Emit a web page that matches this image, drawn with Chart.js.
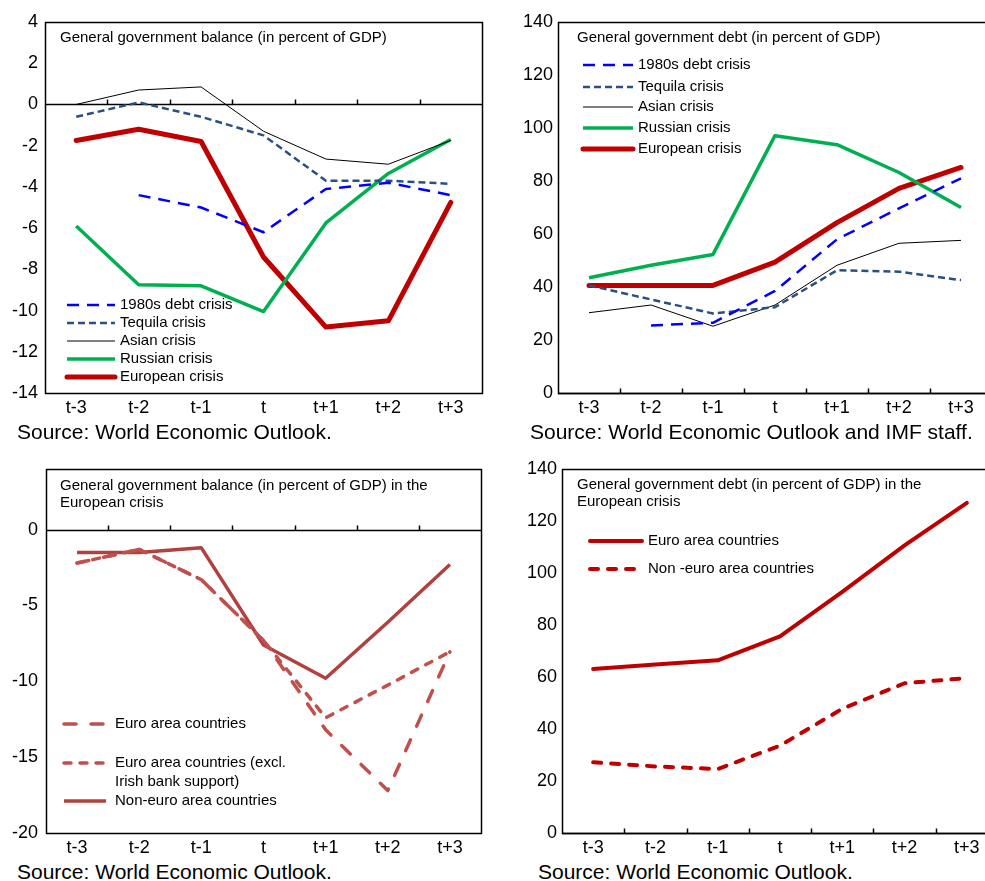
<!DOCTYPE html>
<html>
<head>
<meta charset="utf-8">
<script src="https://cdn.jsdelivr.net/npm/chart.js@4"></script>
<style>
  html, body { margin: 0; padding: 0; background: #fff; overflow: hidden; }
  body { width: 985px; height: 881px; position: relative; font-family: "Liberation Sans", Arial, sans-serif; }
  canvas { position: absolute; }
  .source { position: absolute; font-size: 21px; line-height: 24px; color: #000; white-space: nowrap; }
</style>
</head>
<body>
<canvas id="balance" width="492" height="420" style="left:0;top:0"></canvas>
<canvas id="debt" width="510" height="420" style="left:495px;top:0"></canvas>
<canvas id="euroBalance" width="492" height="420" style="left:0;top:440px"></canvas>
<canvas id="euroDebt" width="510" height="420" style="left:495px;top:440px"></canvas>
<div class="source" style="left:17px;top:420px">Source: World Economic Outlook.</div>
<div class="source" style="left:530px;top:420px">Source: World Economic Outlook and IMF staff.</div>
<div class="source" style="left:17px;top:860px">Source: World Economic Outlook.</div>
<div class="source" style="left:538px;top:860px">Source: World Economic Outlook.</div>
<script>
// Years relative to the start of each crisis (t)
const periods = ['t-3', 't-2', 't-1', 't', 't+1', 't+2', 't+3'];

// General government balance, percent of GDP
const balance1980s    = [null, -4.4, -5.0, -6.2, -4.1, -3.8, -4.4];
const balanceTequila  = [-0.6, 0.1, -0.6, -1.5, -3.7, -3.7, -3.85];
const balanceAsian    = [0.0, 0.7, 0.85, -1.3, -2.65, -2.9, -1.75];
const balanceRussian  = [-5.9, -8.75, -8.8, -10.05, -5.75, -3.35, -1.7];
const balanceEuropean = [-1.75, -1.2, -1.8, -7.4, -10.8, -10.5, -4.75];

// General government debt, percent of GDP
const debt1980s    = [null, 25.5, 26.5, 38.5, 58.0, 69.7, 81.0];
const debtTequila  = [40.6, 35.3, 30.0, 32.4, 46.3, 45.8, 42.6];
const debtAsian    = [30.3, 33.2, 25.2, 33.2, 48.2, 56.5, 57.6];
const debtRussian  = [43.5, 48.2, 52.3, 97.1, 93.7, 83.2, 70.0];
const debtEuropean = [40.6, 40.6, 40.6, 49.4, 64.3, 77.2, 85.1];

// European crisis: balance by country group
const euroAreaBalance      = [-2.2, -1.3, -3.3, -7.3, -13.2, -17.2, -8.05];
const euroAreaExclIrish    = [-2.2, -1.3, -3.3, -7.3, -12.4, -10.25, -8.05];
const nonEuroAreaBalance   = [-1.5, -1.5, -1.2, -7.6, -9.8, -6.1, -2.3];

// European crisis: debt by country group
const euroAreaDebt    = [63.1, 64.8, 66.4, 75.6, 92.7, 110.6, 127.0];
const nonEuroAreaDebt = [27.2, 25.6, 24.6, 33.6, 47.8, 57.6, 59.6];

// Tick values shown on the y axes
const balanceTicks     = [4, 2, 0, -2, -4, -6, -8, -10, -12, -14];
const debtTicks        = [140, 120, 100, 80, 60, 40, 20, 0];
const euroBalanceTicks = [0, -5, -10, -15, -20];

const FONT = '"Liberation Sans", Arial, Helvetica, sans-serif';

// Frame, baseline with inward tick marks, in-plot title and legend
const framePlugin = {
  id: 'frame',
  beforeDatasetsDraw(chart, args, opts) {
    const { ctx, chartArea: a, scales: { x, y } } = chart;
    ctx.save();
    ctx.strokeStyle = '#000';
    ctx.lineWidth = 1.5;
    const by = Math.round(y.getPixelForValue(opts.baseline)) + 0.5;
    ctx.beginPath();
    ctx.moveTo(a.left, by);
    ctx.lineTo(a.right, by);
    for (let i = 1; i < chart.data.labels.length; i++) {
      const px = Math.round((x.getPixelForValue(i - 1) + x.getPixelForValue(i)) / 2) + 0.5;
      ctx.moveTo(px, by);
      ctx.lineTo(px, by - 5);
    }
    ctx.stroke();
    ctx.restore();
  },
  afterDatasetsDraw(chart, args, opts) {
    const { ctx, chartArea: a } = chart;
    ctx.save();
    ctx.strokeStyle = '#000';
    ctx.lineWidth = 1.5;
    ctx.strokeRect(Math.round(a.left) + 0.5, Math.round(a.top) + 0.5,
                   Math.round(a.right - a.left), Math.round(a.bottom - a.top));

    ctx.fillStyle = '#000';
    ctx.textBaseline = 'middle';
    ctx.textAlign = 'left';
    ctx.font = '15px ' + FONT;
    opts.title.lines.forEach((line, i) => {
      ctx.fillText(line, opts.title.x, opts.title.y + i * 17);
    });

    const lg = opts.legend;
    chart.data.datasets.forEach((ds, i) => {
      const ry = lg.rows[i];
      ctx.save();
      ctx.strokeStyle = ds.borderColor;
      ctx.lineWidth = ds.borderWidth;
      ctx.setLineDash(ds.borderDash || []);
      ctx.lineCap = ds.legendCap || 'butt';
      ctx.beginPath();
      ctx.moveTo(lg.x0, ry);
      ctx.lineTo(lg.x1, ry);
      ctx.stroke();
      ctx.restore();
      const text = Array.isArray(ds.label) ? ds.label : [ds.label];
      text.forEach((t, j) => ctx.fillText(t, lg.tx, ry + j * 19));
    });
    ctx.restore();
  }
};

function line(label, data, color, width, dash, cap) {
  return {
    label, data,
    borderColor: color,
    backgroundColor: color,
    borderWidth: width,
    borderDash: dash || [],
    borderCapStyle: cap || 'butt',
    legendCap: cap || 'butt',
    borderJoinStyle: 'round',
    pointRadius: 0,
    tension: 0,
    fill: false,
    spanGaps: false
  };
}

function buildPanel(id, spec) {
  new Chart(document.getElementById(id), {
    type: 'line',
    data: { labels: periods, datasets: spec.datasets },
    options: {
      responsive: false,
      animation: false,
      events: [],
      layout: { padding: spec.padding },
      plugins: {
        legend: { display: false },
        tooltip: { enabled: false },
        frame: { baseline: spec.baseline, title: spec.title, legend: spec.legend }
      },
      scales: {
        x: {
          type: 'category',
          offset: true,
          grid: { display: false, drawTicks: false },
          border: { display: false },
          ticks: { color: '#000', font: { family: FONT, size: 18 }, padding: 4, maxRotation: 0, autoSkip: false },
          afterFit: s => { s.height = spec.xHeight; }
        },
        y: {
          min: spec.min, max: spec.max,
          grid: { display: false, drawTicks: false },
          border: { display: false },
          ticks: { color: '#000', font: { family: FONT, size: 18 }, padding: spec.yPad },
          afterBuildTicks: s => { s.ticks = spec.ticks.map(v => ({ value: v })); },
          afterFit: s => { s.width = spec.yWidth; }
        }
      }
    },
    plugins: [framePlugin]
  });
}

buildPanel('balance', {
  min: -14, max: 4, ticks: balanceTicks, baseline: 0,
  padding: { top: 22, right: 10, left: 0, bottom: 0 }, yWidth: 45, yPad: 7, xHeight: 27,
  title: { x: 60, y: 38, lines: ['General government balance (in percent of GDP)'] },
  legend: { x0: 67, x1: 115, tx: 120, rows: [305, 323, 341, 359, 377] },
  datasets: [
    line('1980s debt crisis', balance1980s, '#0000FF', 2.5, [12, 8]),
    line('Tequila crisis', balanceTequila, '#2A5083', 2.5, [7, 4]),
    line('Asian crisis', balanceAsian, '#000000', 1),
    line('Russian crisis', balanceRussian, '#00B050', 3.5),
    line('European crisis', balanceEuropean, '#C00000', 5, [], 'round')
  ]
});

buildPanel('debt', {
  min: 0, max: 140, ticks: debtTicks, baseline: 0,
  padding: { top: 22, right: 13, left: 0, bottom: 0 }, yWidth: 63, yPad: 5, xHeight: 27,
  title: { x: 82, y: 38, lines: ['General government debt (in percent of GDP)'] },
  legend: { x0: 88, x1: 138, tx: 143, rows: [65, 87, 107, 128, 149] },
  datasets: [
    line('1980s debt crisis', debt1980s, '#0000FF', 2.5, [12, 8]),
    line('Tequila crisis', debtTequila, '#2A5083', 2.5, [7, 4]),
    line('Asian crisis', debtAsian, '#000000', 1),
    line('Russian crisis', debtRussian, '#00B050', 3.5),
    line('European crisis', debtEuropean, '#C00000', 5, [], 'round')
  ]
});

buildPanel('euroBalance', {
  min: -20, max: 4, ticks: euroBalanceTicks, baseline: 0,
  padding: { top: 29, right: 11, left: 0, bottom: 0 }, yWidth: 46, yPad: 8, xHeight: 27,
  title: { x: 60, y: 46, lines: ['General government balance (in percent of GDP) in the', 'European crisis'] },
  legend: { x0: 64, x1: 106, tx: 115, rows: [284, 323, 361] },
  datasets: [
    line('Euro area countries', euroAreaBalance, '#C0504D', 3.5, [12, 15], 'round'),
    line(['Euro area countries (excl.', 'Irish bank support)'], euroAreaExclIrish, '#C0504D', 3.5, [7, 9], 'round'),
    line('Non-euro area countries', nonEuroAreaBalance, '#B0413E', 3.5)
  ]
});

buildPanel('euroDebt', {
  min: 0, max: 140, ticks: debtTicks, baseline: 0,
  padding: { top: 29, right: 7, left: 0, bottom: 0 }, yWidth: 67, yPad: 5, xHeight: 27,
  title: { x: 82, y: 45, lines: ['General government debt (in percent of GDP) in the', 'European crisis'] },
  legend: { x0: 95, x1: 147, tx: 153, rows: [101, 129] },
  datasets: [
    line('Euro area countries', euroAreaDebt, '#C00000', 4, [], 'round'),
    line('Non -euro area countries', nonEuroAreaDebt, '#C00000', 4, [8, 10], 'round')
  ]
});
</script>
</body>
</html>
